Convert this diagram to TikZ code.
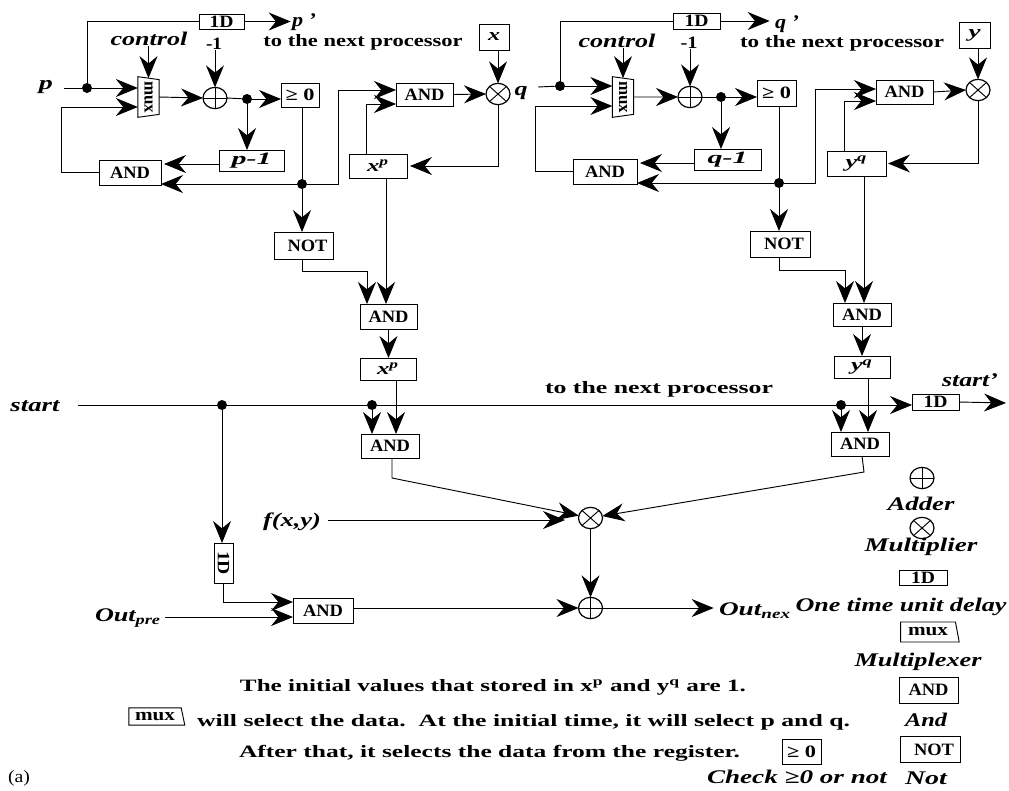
\documentclass[tikz,border=0pt]{standalone}
\usepackage{fontspec}
\usepackage{graphicx}
\setmainfont{Liberation Serif}
\usetikzlibrary{arrows.meta,calc,shapes.geometric}
\newdimen\pxu \pxu=0.75pt
\newcommand\tw[2]{\resizebox{#1\pxu}{\height}{#2}}
\newcommand\bx[6]{\node[box,minimum width={0.75pt*((#4)-(#2))},minimum height={0.75pt*((#5)-(#3))}] (#1) at ({(#2+#4)/2},{(#3+#5)/2}) {#6};}
\newcommand\tAND{\tw{40}{AND}}
\newcommand\tNOT{\tw{40}{NOT}}
\newcommand\tD{\raisebox{-1.5pt}{\tw{24}{1D}}}
\newcommand\tGE{\tw{29}{≥ 0}}
\tikzset{
 every node/.style={font=\fontsize{13}{15}\selectfont\bfseries,inner sep=0pt,outer sep=0pt},
 box/.style={draw,rectangle,fill=white},
 wire/.style={line width=0.7pt},
 arr/.style={line width=0.7pt,-{Stealth[length=16.5pt,width=13.5pt,inset=5.5pt]}},
 jdot/.style={circle,fill=black,minimum size=7.5pt},
 lab/.style={font=\fontsize{14.5}{16}\selectfont\bfseries\itshape},
 muxbox/.style={draw,fill=white,trapezium,trapezium stretches=true,rotate=-90,minimum width=30.5pt,minimum height=16pt,trapezium left angle=72,trapezium right angle=72},
 adder/.style={draw,ellipse,minimum width=18pt,minimum height=16pt,line width=0.9pt,
   path picture={\draw[line width=0.7pt] (path picture bounding box.north)--(path picture bounding box.south) (path picture bounding box.west)--(path picture bounding box.east);}},
 multi/.style={draw,ellipse,minimum width=18pt,minimum height=16pt,line width=0.9pt,
   path picture={\draw[line width=0.7pt] (path picture bounding box.north west)--(path picture bounding box.south east) (path picture bounding box.north east)--(path picture bounding box.south west);}},
}
\begin{document}
\begin{tikzpicture}[x=0.75pt,y=-0.75pt,line width=0.7pt]
\useasboundingbox[fill=white] (0,0) rectangle (1009,790);

% ---------- left processor ----------
\bx{dA}{199}{14}{244}{29}{\tD}
\bx{geA}{281}{83}{319}{107}{\tGE}
\bx{pm}{219}{150}{284}{171}{\itshape\tw{40}{p-1}}
\bx{andA}{99}{160}{161}{185}{\tAND}
\bx{a2}{396}{83}{453}{106}{\tAND}
\bx{xp}{349}{154}{407}{178}{\itshape\tw{22}{x\textsuperscript{p}}}
\bx{xB}{479}{24}{509}{50}{\itshape\tw{12}{x}}
\node[box,minimum width=44.2pt,minimum height=20.2pt] (nA) at (303.5,245.5) {\hspace*{6pt}\tNOT};
\bx{a3}{360}{304}{417}{329}{\tAND}
\bx{xp2}{360}{358}{416}{380}{\itshape\tw{22}{x\textsuperscript{p}}}
\bx{a4}{361}{434}{419}{458}{\tAND}
\node[muxbox] (m1) at (148.5,97) {\tw{32}{mux}};
\node[adder] (aA) at (215,98) {};
\node[multi] (mA) at (498,94) {};
\node[jdot] (dotP) at (87,88) {};
\node[jdot] (dotA) at (247,99) {};
\node[jdot] (dotG) at (302,184) {};
\node[lab] (pL) at (46,87) {\tw{14}{p}};
\node[lab] (ctrlA) at (149,39) {\tw{77}{control}};
\node (mo1) at (214,44) {\tw{16}{-1}};
\node[lab] (pP) at (304,22) {\tw{24}{p ’}};
\node (nxA) at (363,42) {\tw{199}{to the next processor}};
\node[lab] (qL) at (521,93) {\tw{13}{q}};
\coordinate (pS) at (64,88);
\coordinate (fbA) at (61,107);
\coordinate (cA) at (338,90);
\coordinate (cB) at (366,104);
\coordinate (cC) at (367,271);
\coordinate (xpb) at (386,178);
\coordinate (xp2b) at (396,380);
\coordinate (pmw) at (219,164);
\draw[wire] (dotP) |- (dA.west);
\draw[arr,shorten >=1pt] (dA.east) -- (dA.east -| pP.west);
\draw[arr] (m1.west |- ctrlA.south) -- (m1.west);
\draw[arr] (mo1.south -| aA.north) -- (aA.north);
\draw[wire] (pS) -- (dotP);
\draw[arr] (dotP) -- (m1.south |- dotP);
\draw[arr] (andA.west) -| (fbA) -- (m1.south |- fbA);
\draw[arr] (m1.north) -- (aA.west);
\draw[wire] (aA.east) -- (dotA);
\draw[arr] (dotA) -- (geA.west |- dotA);
\draw[arr] (dotA) -- (dotA |- pm.north);
\draw[arr] (pmw) -- ($(andA.east |- pmw)+(3,0)$);
\draw[wire] (dotG |- geA.south) -- (dotG);
\draw[arr] (dotG) -- (dotG -| andA.east);
\draw[arr] (dotG) -| (cA) -- (a2.west |- cA);
\draw[arr] (cB |- xp.north) -- (cB) -- (a2.west |- cB);
\draw[arr] (a2.east) -- (mA.west);
\draw[arr] (mA.north |- xB.south) -- (mA.north);
\draw[arr] (mA.south) |- ($(xp.east)+(3,0)$);
\draw[arr] (dotG) -- (dotG |- nA.north);
\draw[arr] (dotG |- nA.south) |- (cC) -- (cC |- a3.north);
\draw[arr] (xpb) -- (xpb |- a3.north);
\draw[arr] (a3.south) -- (a3.south |- xp2.north);

% ---------- right processor ----------
\bx{dB}{673}{13}{720}{29}{\tD}
\bx{geB}{757}{80}{796}{106}{\tGE}
\bx{qm}{694}{149}{761}{170}{\itshape\tw{40}{q-1}}
\bx{andB}{573}{159}{637}{184}{\tAND}
\bx{b2}{876}{80}{933}{104}{\tAND}
\bx{yq}{827}{151}{886}{176}{\itshape\tw{22}{y\textsuperscript{q}}}
\bx{yB}{959}{22}{990}{48}{\itshape\tw{12}{y}}
\node[box,minimum width=45pt,minimum height=19.5pt] (nB) at (780,244) {\hspace*{6pt}\tNOT};
\bx{b3}{833}{303}{891}{326}{\tAND}
\bx{yq2}{834}{356}{890}{378}{\itshape\tw{22}{y\textsuperscript{q}}}
\bx{a5}{831}{432}{889}{456}{\tAND}
\node[muxbox] (m2) at (623,97) {\tw{32}{mux}};
\node[adder] (aB) at (690,97) {};
\node[multi] (mB) at (978,90) {};
\node[jdot] (dotQ) at (560,86) {};
\node[jdot] (dotB) at (721,97) {};
\node[jdot] (dotH) at (779,183) {};
\node[lab] (ctrlB) at (617,41) {\tw{77}{control}};
\node (mo2) at (689,43) {\tw{17}{-1}};
\node[lab] (qP) at (787,24) {\tw{24}{q ’}};
\node (nxB) at (842,43) {\tw{204}{to the next processor}};
\coordinate (qS) at (538,87);
\coordinate (fbB) at (535,106);
\coordinate (cD) at (815,89);
\coordinate (cE) at (844,101);
\coordinate (cF) at (845,270);
\coordinate (yqb) at (864,176);
\coordinate (yq2b) at (868,378);
\coordinate (qmw) at (694,163);
\draw[wire] (dotQ) |- (dB.west);
\draw[arr,shorten >=4pt] (dB.east) -- (dB.east -| qP.west);
\draw[arr] (m2.west |- ctrlB.south) -- (m2.west);
\draw[arr] (mo2.south -| aB.north) -- (aB.north);
\draw[wire] (qS) -- (dotQ);
\draw[arr] (dotQ) -- (m2.south |- dotQ);
\draw[arr] (andB.west) -| (fbB) -- (m2.south |- fbB);
\draw[arr] (m2.north) -- (aB.west);
\draw[wire] (aB.east) -- (dotB);
\draw[arr] (dotB) -- (geB.west |- dotB);
\draw[arr] (dotB) -- (dotB |- qm.north);
\draw[arr] (qmw) -- ($(andB.east |- qmw)+(3,0)$);
\draw[wire] (dotH |- geB.south) -- (dotH);
\draw[arr] (dotH) -- (dotH -| andB.east);
\draw[arr] (dotH) -| (cD) -- (b2.west |- cD);
\draw[arr] (cE |- yq.north) -- (cE) -- (b2.west |- cE);
\draw[arr] (b2.east) -- (mB.west);
\draw[arr] (mB.north |- yB.south) -- (mB.north);
\draw[arr] (mB.south) |- ($(yq.east)+(2,0)$);
\draw[arr] (dotH) -- (dotH |- nB.north);
\draw[arr] (dotH |- nB.south) |- (cF) -- (cF |- b3.north);
\draw[arr] (yqb) -- (yqb |- b3.north);
\draw[arr] (b3.south) -- (b3.south |- yq2.north);

% ---------- start line and combining stage ----------
\bx{dC}{912}{394}{959}{410}{\tD}
\node[box,minimum width=14.2pt,minimum height=30pt] (dV) at (223.5,563) {\rotatebox{-90}{\tw{24}{1D}}};
\bx{a6}{293}{598}{353}{623}{\tAND}
\node[jdot] (dotS1) at (222,405) {};
\node[jdot] (dotS2) at (372,405) {};
\node[jdot] (dotS3) at (841,405) {};
\node[multi] (mC) at (590.5,518) {};
\node[adder] (aC) at (590.5,608) {};
\node[lab] (stL) at (35,406) {\tw{49}{start}};
\node[lab] (stP) at (970,380) {\tw{56}{start’}};
\node (nxC) at (659,389) {\tw{228}{to the next processor}};
\node[lab] (fL) at (292,522) {\tw{58}{f(x,y)}};
\node[lab] (opL) at (128,618) {\tw{66}{Out\textsubscript{pre}}};
\node[lab] (onL) at (755,611) {\tw{72}{Out\textsubscript{nex}}};
\coordinate (stS) at (78,405);
\coordinate (stE) at (1006,403);
\coordinate (cG) at (392,478);
\coordinate (cH) at (864,472);
\coordinate (a5b) at (862,456);
\coordinate (fS) at (328,520);
\coordinate (fE) at (565,520);
\coordinate (oS) at (165,617);
\coordinate (dvw) at (293,602);
\draw[wire] (stS) -- (dotS1) -- (dotS2) -- (dotS3);
\draw[arr] (dotS3) -- (dC.west |- dotS3);
\draw[arr] (dC.east) -- (stE);
\draw[arr] (dotS2) -- (dotS2 |- a4.north);
\draw[arr] (dotS3) -- (dotS3 |- a5.north);
\draw[arr] (xp2b) -- (xp2b |- a4.north);
\draw[arr] (yq2b) -- (yq2b |- a5.north);
\draw[arr] (cG |- a4.south) -- (cG) -- (mC);
\draw[arr] (a5b) -- (cH) -- (mC);
\draw[arr] (fS) -- (fE);
\draw[arr] (dotS1) -- (dotS1 |- dV.north);
\draw[arr] (dV.south) |- (dvw);
\draw[arr] (oS) -- (oS -| a6.west);
\draw[arr] (a6.east |- aC) -- (aC.west);
\draw[arr] (mC.south) -- (aC.north);
\draw[arr,shorten >=4pt] (aC.east) -- (aC.east -| onL.west);

% ---------- legend and notes ----------
\node[adder] (lgA) at (922,478) {};
\node[lab] (lgAt) at (921,504) {\tw{67}{Adder}};
\node[multi] (lgM) at (922,528) {};
\node[lab] (lgMt) at (921,547) {\tw{113}{Multiplier}};
\bx{lgD}{899}{570}{947}{585}{\tD}
\node[lab] (lgDt) at (901,607) {\tw{211}{One time unit delay}};
\node[draw,fill=white,trapezium,trapezium stretches=true,trapezium left angle=90,trapezium right angle=72,minimum width=44pt,minimum height=15pt] (lgX) at (928,632) {\tw{40}{mux}};
\node[lab] (lgXt) at (918,662) {\tw{127}{Multiplexer}};
\bx{lgN}{899}{677}{958}{703}{\tAND}
\node[lab] (lgNt) at (926,720) {\tw{42}{And}};
\node[box,minimum width=45pt,minimum height=20pt] (lgO) at (930,749.5) {\hspace*{6pt}\tNOT};
\node[lab] (lgOt) at (926,778) {\tw{42}{Not}};
\bx{lgG}{782}{739}{821}{764}{\tGE}
\node[lab] (lgGt) at (797,777) {\tw{180}{Check ≥0 or not}};
\node (nt1) at (493,687) {\tw{506}{The initial values that stored in x\textsuperscript{p} and y\textsuperscript{q} are 1.}};
\node[draw,fill=white,trapezium,trapezium stretches=true,trapezium left angle=90,trapezium right angle=72,minimum width=42pt,minimum height=13pt] (ntX) at (155,716.5) {\tw{40}{mux}};
\node[anchor=west] (nt2) at (197,722) {\tw{653}{will select the data.\ \ At the initial time, it will select p and q.}};
\node[anchor=west] (nt3) at (239,753) {\tw{501}{After that, it selects the data from the register.}};
\node[font=\fontsize{13}{15}\selectfont] (lbA) at (19,778) {\tw{22}{(a)}};
\end{tikzpicture}
\end{document}
